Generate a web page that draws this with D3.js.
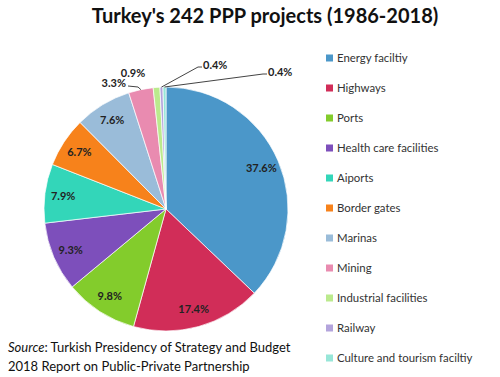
<!DOCTYPE html>
<html>
<head>
<meta charset="utf-8">
<script src="https://cdn.jsdelivr.net/npm/d3@7"></script>
<style>
  body { margin: 0; background: #fff; }
  svg { font-family: Lato, "Open Sans", sans-serif; }
</style>
</head>
<body>
<div id="wrapper"></div>
<script>
// DATA
const categories = ['Energy faciltiy', 'Highways', 'Ports', 'Health care facilities', 'Aiports',
  'Border gates', 'Marinas', 'Mining', 'Industrial facilities', 'Railway', 'Culture and tourism faciltiy']
const shares = [37.6, 17.4, 9.8, 9.3, 7.9, 6.7, 7.6, 3.3, 0.9, 0.4, 0.4]
const colors = ['#4b97c9', '#d12d58', '#83cc2c', '#7d4fbb', '#33d6b9',
  '#f7821b', '#9abcd9', '#e98bb0', '#bbea8d', '#b3a4dc', '#97e6d8']

function drawPie() {
  const dimensions = { width: 500, height: 377 }
  const center = { x: 166, y: 209 }
  const radius = 122

  const dataset = categories.map((c, i) => ({ name: c, value: shares[i], color: colors[i] }))

  const wrapper = d3.select('#wrapper')
    .append('svg')
    .attr('width', dimensions.width)
    .attr('height', dimensions.height)

  // title
  wrapper.append('text')
    .attr('x', 265)
    .attr('y', 23)
    .attr('text-anchor', 'middle')
    .style('font-size', '20px')
    .style('font-weight', 'bold')
    .attr('fill', '#111')
    .text("Turkey's 242 PPP projects (1986-2018)")

  const bounds = wrapper.append('g')
    .attr('transform', `translate(${center.x},${center.y})`)

  const pie = d3.pie().sort(null).value(d => d.value)
  const arcs = pie(dataset)
  const arc = d3.arc().innerRadius(0).outerRadius(radius)
  const labelArc = d3.arc().innerRadius(radius * 0.85).outerRadius(radius * 0.85)

  bounds.selectAll('path')
    .data(arcs)
    .join('path')
    .attr('d', arc)
    .attr('fill', d => d.data.color)
    .attr('stroke', '#fff')
    .attr('stroke-width', 0.7)

  // inside labels for the big slices
  bounds.selectAll('text.inner')
    .data(arcs.filter(d => d.data.value > 5))
    .join('text')
    .attr('class', 'inner')
    .attr('transform', d => `translate(${labelArc.centroid(d)})`)
    .attr('text-anchor', 'middle')
    .attr('dy', '0.35em')
    .style('font-size', '11px')
    .style('font-weight', 'bold')
    .attr('fill', '#222')
    .text(d => d.data.value.toFixed(1) + '%')

  // outside labels: leader elbow/end (relative to centre) and text anchor point
  const outside = {
    7: { elbow: [-28, -122], end: [-38, -123], text: [-40, -126], anchor: 'end', line: true },
    8: { text: [-33, -136], anchor: 'middle', line: false },
    9: { elbow: [32, -142], end: [36, -142], text: [37, -144], anchor: 'start', line: true },
    10: { elbow: [97, -135], end: [101, -135], text: [102, -137], anchor: 'start', line: true }
  }

  arcs.forEach((d, i) => {
    const o = outside[i]
    if (!o) return
    const a = (d.startAngle + d.endAngle) / 2
    const p0 = [Math.sin(a) * radius, -Math.cos(a) * radius]
    if (o.line) {
      bounds.append('polyline')
        .attr('points', [p0, o.elbow, o.end].map(p => p.join(',')).join(' '))
        .attr('fill', 'none')
        .attr('stroke', '#444')
        .attr('stroke-width', 1)
    }
    bounds.append('text')
      .attr('x', o.text[0])
      .attr('y', o.text[1])
      .attr('dy', '0.35em')
      .attr('text-anchor', o.anchor)
      .style('font-size', '11px')
      .style('font-weight', 'bold')
      .attr('fill', '#222')
      .text(d.data.value.toFixed(1) + '%')
  })

  // legend
  const legendY = d3.scalePoint()
    .domain(categories)
    .range([58, 358])

  const legend = wrapper.append('g')
    .selectAll('g')
    .data(dataset)
    .join('g')
    .attr('transform', d => `translate(326,${legendY(d.name)})`)

  legend.append('rect')
    .attr('x', 0)
    .attr('y', -3.5)
    .attr('width', 7)
    .attr('height', 7)
    .attr('fill', d => d.color)

  legend.append('text')
    .attr('x', 11)
    .attr('dy', '0.35em')
    .style('font-size', '11.4px')
    .attr('fill', '#333')
    .text(d => d.name)

  // source note
  const source = wrapper.append('text')
    .attr('x', 8)
    .attr('y', 352)
    .style('font-size', '13px')
    .attr('fill', '#111')
  source.append('tspan').style('font-style', 'italic').text('Source')
  source.append('tspan').text(': Turkish  Presidency  of Strategy and Budget')

  wrapper.append('text')
    .attr('x', 8)
    .attr('y', 371)
    .style('font-size', '13px')
    .attr('fill', '#111')
    .text('2018  Report on Public-Private Partnership')
}

drawPie()
</script>
</body>
</html>
